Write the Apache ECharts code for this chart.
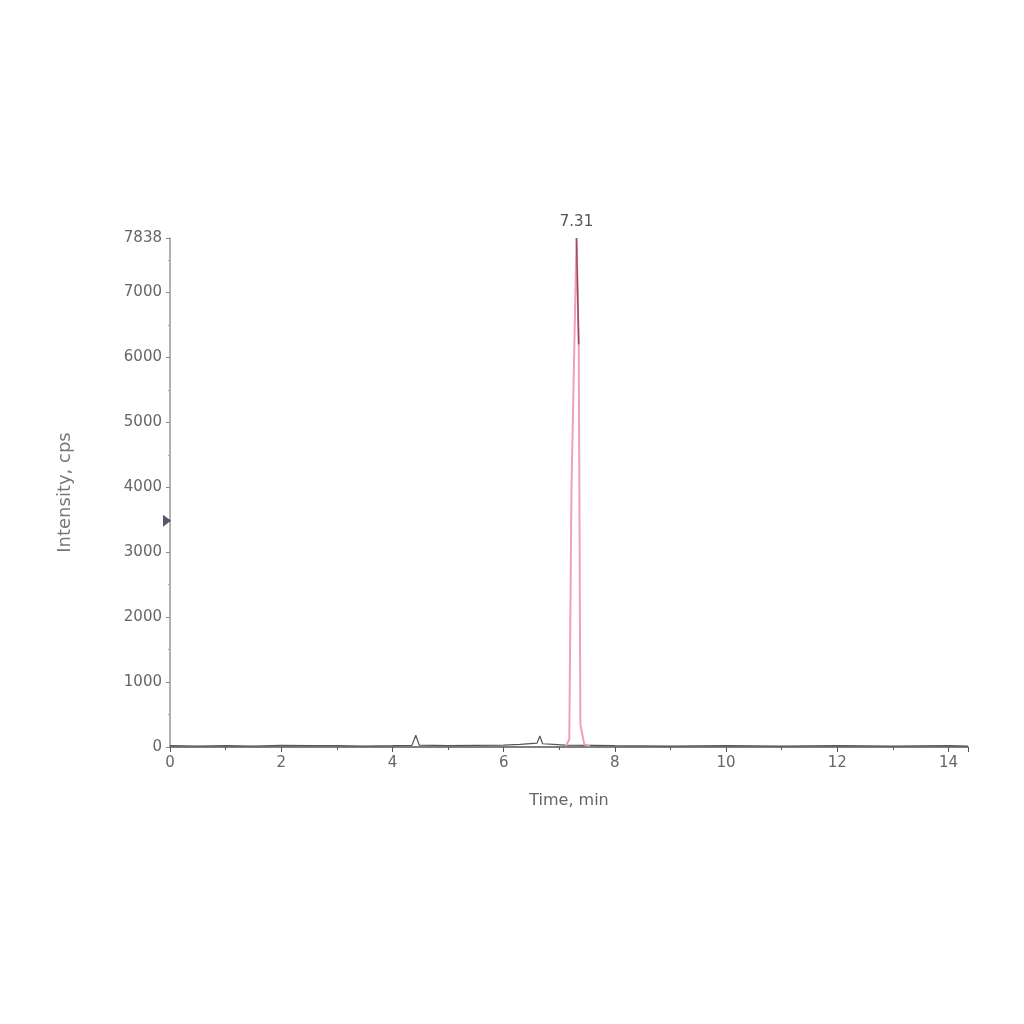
<!DOCTYPE html>
<html>
<head>
<meta charset="utf-8">
<script src="https://cdn.jsdelivr.net/npm/echarts@6/dist/echarts.min.js"></script>
<style>html,body{margin:0;padding:0;background:#fff}#c{width:1024px;height:1024px}</style>
</head>
<body>
<div id="c"></div>
<script>
// Baseline trace (time, min / intensity, cps)
const baselineTrace = [[0,20],[0.5,15],[1,20],[1.5,15],[2,25],[2.5,20],[3,20],[3.5,15],[4,20],[4.35,25],[4.42,180],[4.48,30],[5,20],[5.5,25],[6,30],[6.3,40],[6.6,60],[6.65,170],[6.7,50],[6.9,40],[7.1,30],[7.6,25],[8,20],[9,15],[10,20],[11,15],[12,20],[13,15],[14,20],[14.35,15]];
// Peak trace
const peakTrace = [[7.12,20],[7.18,120],[7.22,4000],[7.31,7838],[7.35,6200],[7.38,340],[7.45,40],[7.55,20]];
// Darker overlay near the apex
const apexTrace = [[7.31,7838],[7.35,6200]];
const peakTime = 7.31;
const peakLabel = '7.31';
const markerValue = 3485;
const yMax = 7838;
const xMax = 14.35;

const chart = echarts.init(document.getElementById('c'), null, {renderer:'canvas'});
const font = 'DejaVu Sans';
chart.setOption({
  animation:false,
  backgroundColor:'#fff',
  grid:{left:170,right:56,top:238,bottom:277,containLabel:false},
  xAxis:{
    type:'value',min:0,max:xMax,interval:2,
    name:'Time, min',nameLocation:'middle',nameGap:46,
    nameTextStyle:{fontFamily:font,fontSize:16,color:'#666'},
    axisLine:{onZero:false,lineStyle:{color:'#555',width:1.5}},
    axisTick:{show:true,length:5,lineStyle:{color:'#555'}},
    minorTick:{show:true,splitNumber:2,length:3,lineStyle:{color:'#555'}},
    splitLine:{show:false},
    axisLabel:{showMaxLabel:false,fontFamily:font,fontSize:15,color:'#666',margin:9,formatter:v=>String(v)}
  },
  yAxis:{
    type:'value',min:0,max:yMax,interval:1000,
    name:'Intensity, cps',nameLocation:'middle',nameGap:96,
    nameTextStyle:{fontFamily:font,fontSize:18,color:'#777'},
    axisLine:{show:true,lineStyle:{color:'#999',width:1.5}},
    axisTick:{show:true,length:4,lineStyle:{color:'#888'}},
    minorTick:{show:true,splitNumber:2,length:2,lineStyle:{color:'#aaa'}},
    splitLine:{show:false},
    axisLabel:{showMaxLabel:true,fontFamily:font,fontSize:15,color:'#666',margin:8,formatter:v=>String(v)}
  },
  series:[
    {type:'line',data:baselineTrace,symbol:'none',lineStyle:{color:'#555',width:1.2},z:3},
    {type:'line',data:peakTrace,symbol:'none',lineStyle:{color:'#f0a0b2',width:2},z:4,
      markPoint:{symbol:'circle',symbolSize:0,
        label:{show:true,position:'top',distance:8,formatter:peakLabel,fontFamily:font,fontSize:15,color:'#555'},
        data:[{coord:[peakTime,yMax]}]}},
    {type:'line',data:apexTrace,symbol:'none',lineStyle:{color:'#9a4a5a',width:1.5},z:5},
    {type:'scatter',data:[[0,markerValue]],symbol:'triangle',symbolRotate:-90,symbolSize:[12,8],symbolOffset:[-3,0],
      itemStyle:{color:'#2a2f45'},clip:false,z:6}
  ]
});
</script>
</body>
</html>
